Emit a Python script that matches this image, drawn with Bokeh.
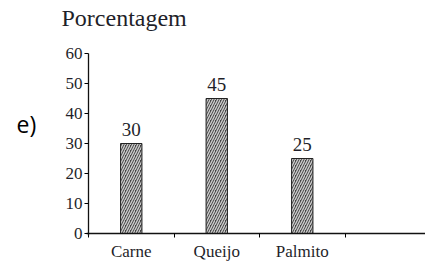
from bokeh.plotting import figure
from bokeh.models import Range1d, FixedTicker, Label, ColumnDataSource
from bokeh.core.properties import value
from bokeh.embed import file_html
from bokeh.resources import INLINE

categories = ["Carne", "Queijo", "Palmito"]
percentages = [30, 45, 25]
y_ticks = [0, 10, 20, 30, 40, 50, 60]
title_text = "Porcentagem"
option_label = "e)"

TXT = "#1f1f2a"
SERIF = "Liberation Serif"

centers = [i + 0.5 for i in range(len(categories))]
bounds = list(range(len(categories) + 1))

src = ColumnDataSource(dict(x=centers, top=percentages,
                            label=[str(v) for v in percentages]))

W, H = 425, 261
X0, Y0 = 88, 233          # pixel position of the origin
PX_X, PX_Y = 85.5, 3.0    # pixels per category / per percent

p = figure(width=W, height=H, output_backend="svg", toolbar_location=None,
           x_range=Range1d(-X0 / PX_X, (W - X0) / PX_X),
           y_range=Range1d(-(H - Y0) / PX_Y, Y0 / PX_Y),
           min_border=0)
p.outline_line_color = None
p.grid.visible = False
p.background_fill_color = "white"
p.border_fill_color = "white"

p.vbar(x="x", top="top", width=0.25, bottom=0, source=src,
       fill_color="#444444", line_color="#222222", line_width=1,
       hatch_pattern="/", hatch_color="#cccccc", hatch_scale=5, hatch_weight=1.4)

p.text(x="x", y="top", text="label", source=src, y_offset=-8,
       text_align="center", text_baseline="bottom",
       text_font=value(SERIF), text_font_size="19px", text_color=TXT)

xa = p.xaxis[0]
xa.ticker = FixedTicker(ticks=centers, minor_ticks=bounds)
xa.major_label_overrides = {c: n for c, n in zip(centers, categories)}
xa.major_tick_out = 0
xa.major_tick_in = 0
xa.minor_tick_out = 4
xa.minor_tick_in = 0
xa.fixed_location = 0
xa.bounds = (-0.02, (W - X0) / PX_X)
xa.axis_line_color = "#111111"
xa.axis_line_width = 1.3
xa.major_label_standoff = 4
xa.major_label_text_font = SERIF
xa.major_label_text_font_size = "17px"
xa.major_label_text_color = TXT

ya = p.yaxis[0]
ya.ticker = FixedTicker(ticks=y_ticks, minor_ticks=[])
ya.major_tick_out = 4
ya.major_tick_in = 0
ya.minor_tick_out = 0
ya.minor_tick_in = 0
ya.fixed_location = 0
ya.bounds = (-0.7, 60)
ya.axis_line_color = "#111111"
ya.axis_line_width = 1.3
ya.major_label_standoff = 2
ya.major_label_text_font = SERIF
ya.major_label_text_font_size = "17px"
ya.major_label_text_color = TXT

p.add_layout(Label(x=(61 - X0) / PX_X, y=(Y0 - 4) / PX_Y, text=title_text, text_font=SERIF,
                   text_font_size="24px", text_color=TXT,
                   text_baseline="top"))
p.add_layout(Label(x=(16 - X0) / PX_X, y=(Y0 - 107) / PX_Y, text=option_label, text_font="Open Sans",
                   text_font_size="23px", text_color="#000000",
                   text_baseline="top"))

open("out.html", "w").write(file_html(p, INLINE))
